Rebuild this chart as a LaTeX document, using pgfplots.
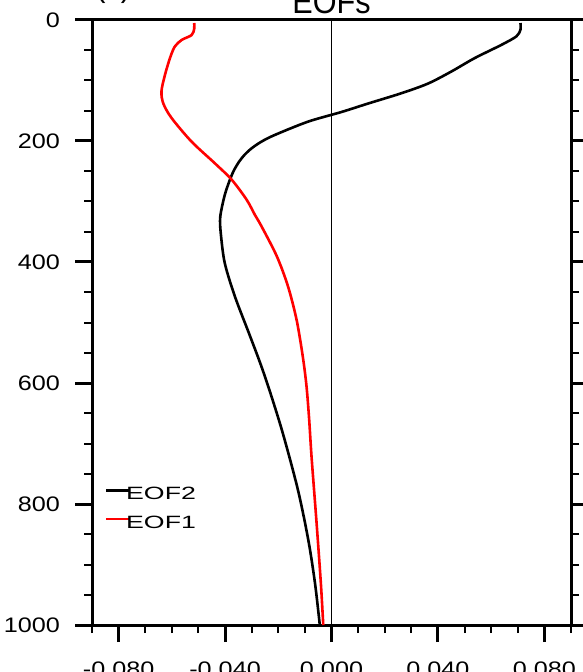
\documentclass[border=0pt]{standalone}
\usepackage{pgfplots}
\pgfplotsset{compat=1.18}
\usepackage{fontspec}
\setmainfont{Liberation Sans}
\newfontfamily\tickfont[FakeStretch=1.2]{Liberation Sans}
\newfontfamily\legfont[FakeStretch=1.5]{Liberation Sans}
\newfontfamily\titfont[FakeStretch=0.9]{Liberation Sans}
\begin{document}
\begin{tikzpicture}
\begin{axis}[
  at={(0,0)}, anchor=south west,
  scale only axis, width=239.5pt, height=302.5pt,
  xmin=-0.09, xmax=0.09, ymin=0, ymax=1000,
  y dir=reverse,
  clip=true,
  axis line style={line width=1.5pt},
  tick align=outside,
  xtick pos=lower, ytick pos=both,
  xtick={-0.08,-0.04,0,0.04,0.08},
  minor xtick={-0.09,-0.07,-0.06,-0.05,-0.03,-0.02,-0.01,0.01,0.02,0.03,0.05,0.06,0.07,0.09},
  ytick={0,200,400,600,800,1000},
  minor ytick={50,100,150,250,300,350,450,500,550,650,700,750,850,900,950},
  major tick length=8.5pt, minor tick length=4pt,
  major tick style={line width=1.5pt, black},
  minor tick style={line width=1pt, black},
  /pgf/number format/assume math mode=true,
  xticklabel style={font=\tickfont\fontsize{10.5}{12}\selectfont, yshift=-6.5pt, /pgf/number format/fixed, /pgf/number format/fixed zerofill, /pgf/number format/precision=3},
  yticklabel style={font=\tickfont\fontsize{10.5}{12}\selectfont, xshift=-4pt, /pgf/number format/fixed, /pgf/number format/set thousands separator={}},
  scaled x ticks=false,
  legend style={draw=none, fill=none, at={(axis description cs:0.0271,0.2288)}, anchor=north west,
    inner sep=0pt, outer sep=0pt, row sep=7.1pt,
    font=\legfont\fontsize{8.9}{10}\selectfont,
    nodes={inner sep=0.3pt, text height=6.4pt, text depth=0pt},
    /tikz/every odd column/.append style={column sep=-2.5pt}},
  legend cell align=left,
  legend image code/.code={\draw[#1] (0pt,1.4pt) -- (11.5pt,1.4pt);},
]
\addplot[black, line width=0.7pt, forget plot] coordinates {(0,0) (0,1000)};
\addplot[black, line width=1.3pt, smooth] coordinates {
(0.0710,5) (0.0710,16) (0.0695,27) (0.0639,41) (0.0538,63) (0.0451,85)
(0.0363,105) (0.0263,121) (0.0138,138) (0.0038,152) (-0.0088,168)
(-0.0213,190) (-0.0263,201) (-0.0300,212) (-0.0327,223) (-0.0347,234)
(-0.0366,248) (-0.0380,262) (-0.0401,289)
(-0.0418,325) (-0.0416,353) (-0.0401,402) (-0.0363,457) (-0.0310,518)
(-0.0268,567) (-0.0233,612) (-0.0183,683) (-0.0126,777) (-0.0087,860)
(-0.0062,931) (-0.0044,1000)};
\addlegendentry{EOF2}
\addplot[red, line width=1.3pt, smooth] coordinates {
(-0.0516,5) (-0.0516,15) (-0.0526,25) (-0.0563,33) (-0.0589,44)
(-0.0607,63) (-0.0626,91) (-0.0639,118) (-0.0632,138) (-0.0601,162)
(-0.0526,201) (-0.0438,237) (-0.0375,264) (-0.0319,297) (-0.0288,322)
(-0.0263,341) (-0.0205,391) (-0.0163,441) (-0.0131,496) (-0.0108,556)
(-0.0094,605) (-0.0084,660) (-0.0075,722) (-0.0056,832) (-0.0040,931) (-0.0031,1000)};
\addlegendentry{EOF1}
\end{axis}
\node[anchor=base, inner sep=0pt, font=\titfont\fontsize{17}{20}\selectfont] at (119.75pt,305.5pt) {EOFs};
\node[anchor=base west, inner sep=0pt, font=\titfont\fontsize{17}{20}\selectfont] at (1.5pt,314pt) {(c)};
\pgfresetboundingbox
\useasboundingbox (-46pt,-23.5pt) rectangle (245pt,312.5pt);
\end{tikzpicture}
\end{document}
